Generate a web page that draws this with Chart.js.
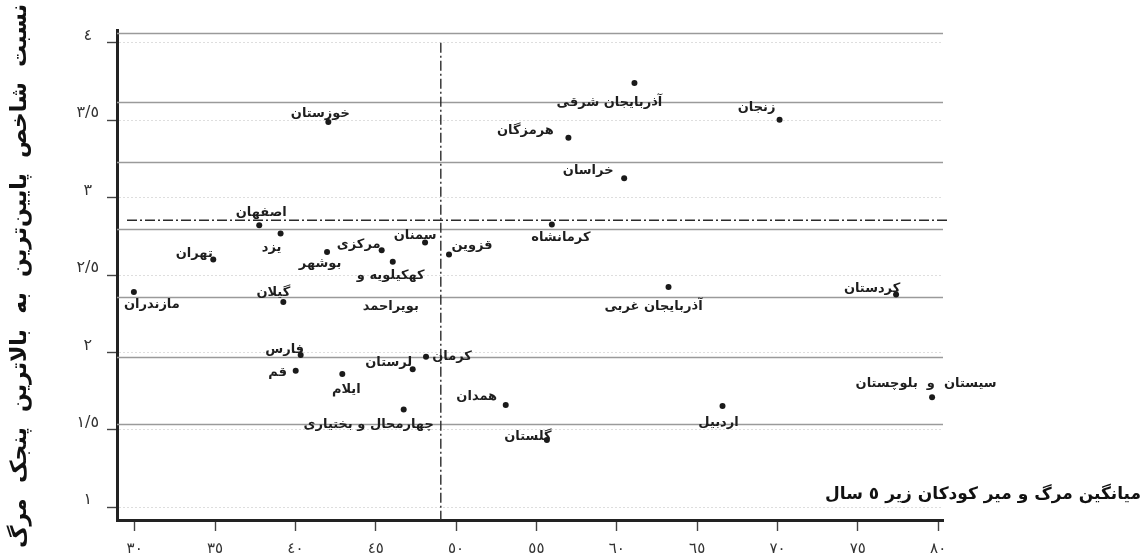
<!DOCTYPE html>
<html lang="fa">
<head>
<meta charset="utf-8">
<title>نسبت شاخص مرگ و میر کودکان زیر ۵ سال</title>
<script src="https://cdn.jsdelivr.net/npm/chart.js@4.4.1/dist/chart.umd.min.js"></script>
<style>
  html, body { margin: 0; padding: 0; background: #ffffff; }
  #wrap { width: 1145px; height: 559px; position: relative; }
</style>
</head>
<body>
<div id="wrap"><canvas id="chart" width="1145" height="559"></canvas></div>
<script>
// Provinces, mean under-5 mortality (x) and lowest/highest quintile ratio (y)
const provinces = [
  'خوزستان', 'اصفهان', 'یزد', 'تهران', 'بوشهر', 'مرکزی', 'سمنان',
  'کهکیلویه و\nبویراحمد', 'قزوین', 'مازندران', 'گیلان',
  'آذربایجان شرقی', 'زنجان', 'هرمزگان', 'خراسان', 'کرمانشاه',
  'آذربایجان غربی', 'کردستان', 'فارس', 'قم', 'ایلام', 'لرستان',
  'کرمان', 'چهارمحال و بختیاری', 'همدان', 'گلستان', 'اردبیل',
  'سیستان  و  بلوچستان'
];
const u5Mortality = [
  42.05, 37.75, 39.08, 34.89, 41.97, 45.37, 48.07,
  46.06, 49.56, 29.95, 39.25,
  61.10, 70.13, 56.99, 60.46, 55.96,
  63.22, 77.38, 40.33, 40.02, 42.92, 47.30,
  48.13, 46.74, 53.09, 55.65, 66.58,
  79.62
];
const quintileRatio = [
  3.488, 2.821, 2.768, 2.600, 2.649, 2.660, 2.710,
  2.585, 2.632, 2.391, 2.326,
  3.739, 3.503, 3.387, 3.125, 2.826,
  2.423, 2.374, 1.983, 1.881, 1.860, 1.892,
  1.972, 1.632, 1.660, 1.434, 1.654,
  1.710
];

// Reference lines at the means
const meanMortality = 49.05;
const meanRatio = 2.854;

// Printed ruling of the page behind the plot
const ruleLevels = [4.065, 3.617, 3.230, 2.797, 2.359, 1.972, 1.535];

// Axis ticks and their labels
const xTicks = [30, 35, 40, 45, 50, 55, 60, 65, 70, 75, 80];
const xTickLabels = ['٣٠', '٣٥', '٤٠', '٤٥', '٥٠', '٥٥', '٦٠', '٦٥', '٧٠', '٧٥', '٨٠'];
const yTicks = [1, 1.5, 2, 2.5, 3, 3.5, 4];
const yTickLabels = ['١', '١/٥', '٢', '٢/٥', '٣', '٣/٥', '٤'];

const xTitle = 'میانگین مرگ و میر کودکان زیر ٥ سال';
const yTitle = 'نسبت  شاخص  پایین‌ترین  به  بالاترین  پنجک  مرگ  و  میر';

// Where each province name sits relative to its point (text centre offset, px)
const labelOffsets = [
  [-8, -8], [2, -13], [-9, 14], [-19, -6], [-7, 12], [-23, -6], [-10, -7],
  [-2, 14], [23, -9], [18, 13], [-10, -9],
  [-25, 20], [-23, -12], [-43, -7], [-36, -8], [9, 13],
  [-15, 20], [-24, -6], [-16, -5], [-18, 2], [4, 16], [-24, -7],
  [26, 0], [-35, 15], [-29, -8], [-19, -3], [-4, 17],
  [-6, -14]
];
const labelLineGap = 31;

const FONT = '"DejaVu Sans", "Noto Sans", sans-serif';

const decorPlugin = {
  id: 'decor',
  beforeDatasetsDraw(chart) {
    const { ctx, chartArea: a, scales: { x, y } } = chart;
    ctx.save();
    // ruled page lines
    ctx.strokeStyle = '#9a9a9a';
    ctx.lineWidth = 1.4;
    ruleLevels.forEach(v => {
      const py = Math.round(y.getPixelForValue(v)) + 0.5;
      ctx.beginPath();
      ctx.moveTo(a.left, py);
      ctx.lineTo(a.right, py);
      ctx.stroke();
    });
    // dash-dot mean lines
    ctx.strokeStyle = '#2a2a2a';
    ctx.lineWidth = 1.4;
    ctx.setLineDash([10, 3, 2, 3]);
    const my = y.getPixelForValue(meanRatio);
    ctx.beginPath();
    ctx.moveTo(a.left + 10, my);
    ctx.lineTo(a.right + 5, my);
    ctx.stroke();
    const mx = x.getPixelForValue(meanMortality);
    ctx.beginPath();
    ctx.moveTo(mx, y.getPixelForValue(4));
    ctx.lineTo(mx, a.bottom);
    ctx.stroke();
    ctx.restore();
  },
  afterDatasetsDraw(chart) {
    const { ctx } = chart;
    const meta = chart.getDatasetMeta(0);
    ctx.save();
    ctx.fillStyle = '#1e1e1e';
    ctx.font = 'bold 13px ' + FONT;
    ctx.textAlign = 'center';
    ctx.textBaseline = 'middle';
    meta.data.forEach((pt, i) => {
      const [dx, dy] = labelOffsets[i];
      provinces[i].split('\n').forEach((line, k) => {
        ctx.fillText(line, pt.x + dx, pt.y + dy + k * labelLineGap);
      });
    });
    ctx.restore();
  },
  afterDraw(chart) {
    const { ctx } = chart;
    ctx.save();
    ctx.fillStyle = '#111';
    // x axis title, to the right of the plot
    ctx.font = 'bold 17px ' + FONT;
    ctx.textAlign = 'right';
    ctx.textBaseline = 'middle';
    ctx.fillText(xTitle, 1141, 495);
    // y axis title, running down the left edge
    ctx.translate(20, 4);
    ctx.rotate(-Math.PI / 2);
    ctx.font = 'bold 22px ' + FONT;
    ctx.textAlign = 'right';
    ctx.textBaseline = 'middle';
    ctx.fillText(yTitle, 0, 0);
    ctx.restore();
  }
};

new Chart(document.getElementById('chart'), {
  type: 'scatter',
  data: {
    datasets: [{
      data: u5Mortality.map((v, i) => ({ x: v, y: quintileRatio[i] })),
      pointRadius: 3,
      pointHoverRadius: 3,
      backgroundColor: '#1a1a1a',
      borderWidth: 0
    }]
  },
  options: {
    responsive: false,
    animation: false,
    events: [],
    layout: { padding: { top: 30, right: 202, left: 0, bottom: 0 } },
    plugins: { legend: { display: false }, tooltip: { enabled: false } },
    scales: {
      x: {
        type: 'linear',
        min: 28.9,
        max: 80.3,
        afterBuildTicks: s => { s.ticks = xTicks.map(v => ({ value: v })); },
        afterFit: s => { s.height = 39; },
        ticks: {
          callback: v => xTickLabels[xTicks.indexOf(v)] ?? '',
          color: '#333',
          font: { family: FONT, size: 15 },
          padding: 9,
          maxRotation: 0,
          autoSkip: false
        },
        grid: { drawOnChartArea: false, drawTicks: true, tickLength: 11, tickColor: '#444', tickWidth: 1.4 },
        border: { display: true, color: '#222', width: 3 }
      },
      y: {
        type: 'linear',
        min: 0.918,
        max: 4.082,
        afterBuildTicks: s => { s.ticks = yTicks.map(v => ({ value: v })); },
        afterFit: s => { s.width = 117; },
        ticks: {
          callback: v => yTickLabels[yTicks.indexOf(v)] ?? '',
          color: '#333',
          font: { family: FONT, size: 16 },
          padding: 8,
          crossAlign: 'center',
          labelOffset: -7,
          autoSkip: false
        },
        grid: {
          color: 'rgba(0,0,0,0.13)',
          lineWidth: 1,
          drawTicks: true,
          tickLength: 10,
          tickColor: '#444',
          tickWidth: 1.4
        },
        border: { display: true, color: '#222', width: 3, dash: [2, 2] }
      }
    }
  },
  plugins: [decorPlugin]
});
</script>
</body>
</html>
